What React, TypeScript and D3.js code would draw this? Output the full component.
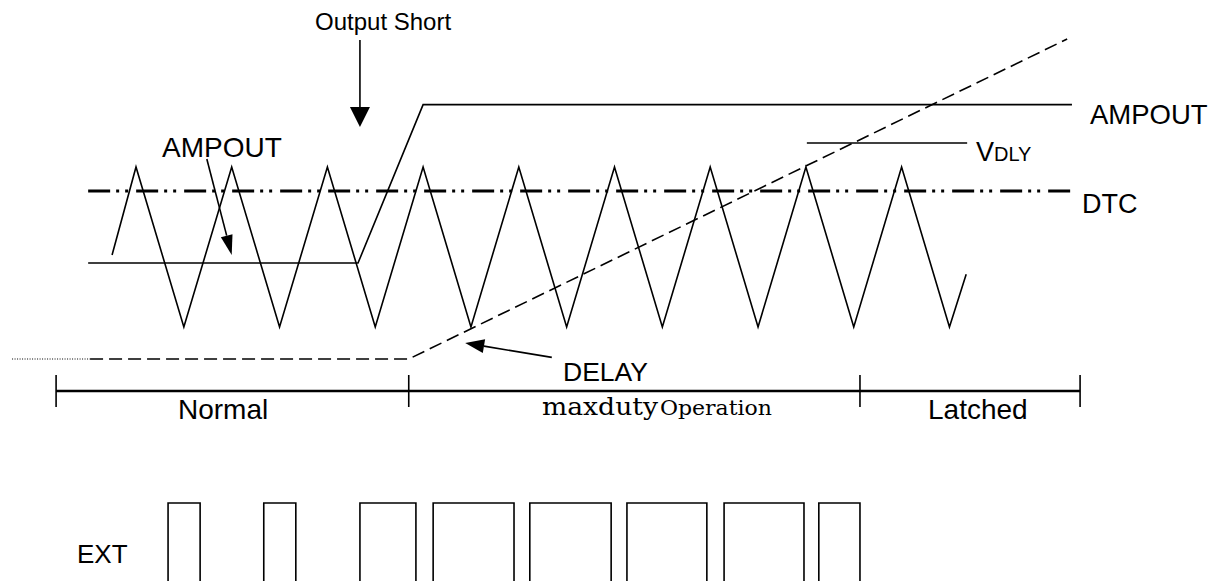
import * as d3 from 'd3'

// time axis in half-periods of the oscillator (0 = first peak)
const TRI_T = [-0.5, 0, 1, 2, 3, 4, 5, 6, 7, 8, 9, 10, 11, 12, 13, 14, 15, 16, 17, 17.35]
const TRI_V = [0.45, 1, 0, 1, 0, 1, 0, 1, 0, 1, 0, 1, 0, 1, 0, 1, 0, 1, 0, 0.33]

const AMPOUT_T = [-1.0, 4.64, 6.0, 19.56]
const AMPOUT_V = [0.4, 0.4, 1.39, 1.39]

const DTC_T = [-1.0, 19.56]
const DTC_V = [0.85, 0.85]

const VDLY_T = [14.02, 17.37]
const VDLY_V = [1.15, 1.15]

const DELAY_DOT_T = [-2.59, -0.96]
const DELAY_DOT_V = [-0.2, -0.2]
const DELAY_T = [-0.96, 5.7, 19.46]
const DELAY_V = [-0.2, -0.2, 1.8]

const EXT_RISE = [0.67, 2.67, 4.68, 6.21, 8.23, 10.26, 12.29, 14.27]
const EXT_FALL = [1.34, 3.34, 5.85, 7.9, 9.93, 11.93, 13.96, 15.13]

const PHASE_TICKS = [-1.67, 5.7, 15.13, 19.73]

const W = 1215
const H = 581

const x = d3.scaleLinear().domain([0, 20]).range([136, 1093])
const v = d3.scaleLinear().domain([0, 1]).range([327, 167])
const ext = d3.scaleLinear().domain([0, 1]).range([590, 503])

const line = d3.line<[number, number]>().x(d => x(d[0])).y(d => v(d[1]))
const zip = (ts: number[], vs: number[]) => ts.map((t, i) => [t, vs[i]] as [number, number])

const SANS = '"Liberation Sans", Arial, sans-serif'
const SERIF = '"DejaVu Serif", serif'

// arrow: shaft + filled head, in pixel coords
function Arrow({ x1, y1, x2, y2, len, half }: { x1: number; y1: number; x2: number; y2: number; len: number; half: number }) {
  const dx = x2 - x1
  const dy = y2 - y1
  const d = Math.hypot(dx, dy)
  const ux = dx / d
  const uy = dy / d
  const bx = x2 - ux * len
  const by = y2 - uy * len
  const pts = [
    [x2, y2],
    [bx - uy * half, by + ux * half],
    [bx + uy * half, by - ux * half],
  ]
  return (
    <g>
      <line x1={x1} y1={y1} x2={bx} y2={by} stroke="#000" strokeWidth={1.6} />
      <polygon points={pts.map(p => p.join(',')).join(' ')} fill="#000" />
    </g>
  )
}

export default function App() {
  const tlY = 391
  return (
    <svg width={W} height={H} style={{ position: 'absolute', left: 0, top: 0, background: '#fff' }}>
      {/* DTC level */}
      <path d={line(zip(DTC_T, DTC_V)) || ''} fill="none" stroke="#000" strokeWidth={3} strokeDasharray="22,6,3,6,3,8" />
      {/* oscillator */}
      <path d={line(zip(TRI_T, TRI_V)) || ''} fill="none" stroke="#000" strokeWidth={1.6} />
      {/* AMPOUT */}
      <path d={line(zip(AMPOUT_T, AMPOUT_V)) || ''} fill="none" stroke="#000" strokeWidth={1.6} />
      {/* VDLY */}
      <path d={line(zip(VDLY_T, VDLY_V)) || ''} fill="none" stroke="#000" strokeWidth={1.6} />
      {/* DELAY ramp */}
      <path d={line(zip(DELAY_DOT_T, DELAY_DOT_V)) || ''} fill="none" stroke="#000" strokeWidth={1.2} strokeDasharray="1,1.5" />
      <path d={line(zip(DELAY_T, DELAY_V)) || ''} fill="none" stroke="#000" strokeWidth={1.6} strokeDasharray="13,6" />

      {/* annotations */}
      <text x={315} y={30} fontFamily={SANS} fontSize={24}>Output Short</text>
      <Arrow x1={x(4.68)} y1={40} x2={x(4.68)} y2={127} len={20} half={10} />
      <text x={162} y={157} fontFamily={SANS} fontSize={28}>AMPOUT</text>
      <Arrow x1={x(1.48)} y1={v(1.05)} x2={x(2.0)} y2={v(0.45)} len={20} half={6} />
      <Arrow x1={x(8.69)} y1={v(-0.19)} x2={x(6.88)} y2={v(-0.1)} len={19} half={7} />
      <text x={563} y={381} fontFamily={SANS} fontSize={26.5}>DELAY</text>

      <text x={1090} y={124} fontFamily={SANS} fontSize={27.5}>AMPOUT</text>
      <text x={976} y={161} fontFamily={SANS} fontSize={27}>V</text>
      <text x={994} y={161} fontFamily={SANS} fontSize={20}>DLY</text>
      <text x={1082} y={213} fontFamily={SANS} fontSize={27}>DTC</text>

      {/* phase timeline */}
      <line x1={x(PHASE_TICKS[0])} x2={x(PHASE_TICKS[PHASE_TICKS.length - 1])} y1={tlY} y2={tlY} stroke="#000" strokeWidth={2.5} />
      {PHASE_TICKS.map((t, i) => (
        <line key={i} x1={x(t)} x2={x(t)} y1={tlY - 16} y2={tlY + 16} stroke="#000" strokeWidth={1.6} />
      ))}
      <text x={178} y={419} fontFamily={SANS} fontSize={28}>Normal</text>
      <text x={542} y={415} fontFamily={SERIF} fontSize={25} textLength={116} lengthAdjust="spacingAndGlyphs">maxduty</text>
      <text x={660} y={415} fontFamily={SERIF} fontSize={20} textLength={112} lengthAdjust="spacingAndGlyphs">Operation</text>
      <text x={928} y={419} fontFamily={SANS} fontSize={28}>Latched</text>

      {/* EXT output */}
      <text x={77} y={563} fontFamily={SANS} fontSize={26}>EXT</text>
      {EXT_RISE.map((r, i) => (
        <path
          key={i}
          d={`M${x(r)},${ext(0)}V${ext(1)}H${x(EXT_FALL[i])}V${ext(0)}`}
          fill="none"
          stroke="#000"
          strokeWidth={1.6}
        />
      ))}
    </svg>
  )
}
